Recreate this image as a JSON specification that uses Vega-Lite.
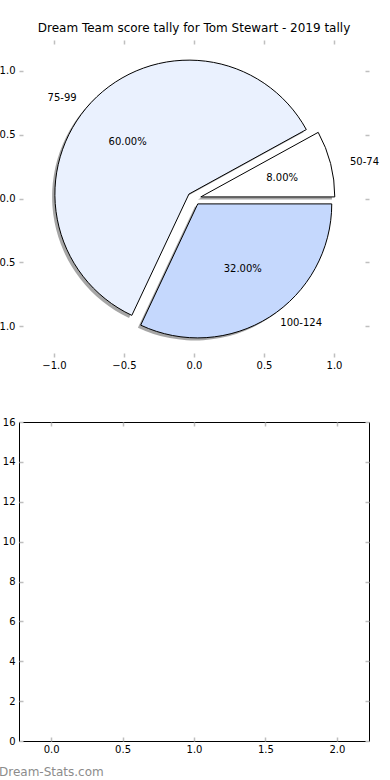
{
  "$schema": "https://vega.github.io/schema/vega-lite/v6.json",
  "bounds": "flush",
  "spacing": 65,
  "padding": {"left": -10, "top": 22, "right": 20, "bottom": 0},
  "config": {
    "font": "DejaVu Sans",
    "view": {"stroke": null},
    "axis": {
      "domain": false,
      "grid": false,
      "tickColor": "#bfbfbf",
      "tickWidth": 1.5,
      "tickSize": 4,
      "offset": -4,
      "labelFont": "DejaVu Sans",
      "labelFontSize": 10,
      "labelColor": "black",
      "title": null
    },
    "axisX": {"labelPadding": 3},
    "axisY": {"labelPadding": 4},
    "text": {"font": "DejaVu Sans", "fontSize": 10, "color": "black"}
  },
  "datasets": {
    "tally": [
      {"band": "50-74", "count": 2, "order": 1},
      {"band": "75-99", "count": 15, "order": 2},
      {"band": "100-124", "count": 8, "order": 3}
    ]
  },
  "vconcat": [
    {
      "width": 350,
      "height": 317,
      "title": {"text": "Dream Team score tally for Tom Stewart - 2019 tally", "fontSize": 12, "fontWeight": "normal", "font": "DejaVu Sans", "color": "black", "offset": 4, "anchor": "middle"},
      "data": {"name": "tally"},
      "transform": [
        {"joinaggregate": [{"op": "sum", "field": "count", "as": "total"}]},
        {"window": [{"op": "sum", "field": "count", "as": "cum"}], "sort": [{"field": "order"}], "frame": [null, 0]},
        {"calculate": "(datum.cum - datum.count) / datum.total", "as": "f0"},
        {"calculate": "datum.cum / datum.total", "as": "f1"},
        {"calculate": "PI * (datum.f0 + datum.f1)", "as": "mid"},
        {"calculate": "0.05 * cos(datum.mid)", "as": "cx"},
        {"calculate": "0.05 * sin(datum.mid)", "as": "cy"},
        {"calculate": "datum.cx - 0.02", "as": "sx"},
        {"calculate": "datum.cy - 0.02", "as": "sy"},
        {"calculate": "1.15 * cos(datum.mid)", "as": "lx"},
        {"calculate": "1.15 * sin(datum.mid)", "as": "ly"},
        {"calculate": "0.65 * cos(datum.mid)", "as": "px"},
        {"calculate": "0.65 * sin(datum.mid)", "as": "py"},
        {"calculate": "format(100 * datum.count / datum.total, '.2f') + '%'", "as": "pct"}
      ],
      "resolve": {"axis": {"x": "independent", "y": "independent"}},
      "layer": [
        {
          "mark": {"type": "arc", "radius": 134, "fill": "#4d4d4d", "opacity": 0.5, "stroke": null},
          "encoding": {
            "x": {"field": "sx", "type": "quantitative", "scale": {"domain": [-1.25, 1.25], "nice": false, "zero": false}, "axis": {"orient": "top", "labels": false, "values": [-1, -0.5, 0, 0.5, 1]}},
            "y": {"field": "sy", "type": "quantitative", "scale": {"domain": [-1.24, 1.24], "nice": false, "zero": false}, "axis": {"orient": "right", "labels": false, "values": [-1, -0.5, 0, 0.5, 1]}},
            "theta": {"field": "f0", "type": "quantitative", "scale": {"type": "linear", "domain": [0, 1], "range": [1.5707963, -4.712389], "zero": false, "nice": false}},
            "theta2": {"field": "f1"}
          }
        },
        {
          "mark": {"type": "arc", "radius": 134, "stroke": "black", "strokeWidth": 1},
          "encoding": {
            "x": {"field": "cx", "type": "quantitative", "scale": {"domain": [-1.25, 1.25], "nice": false, "zero": false}, "axis": {"orient": "bottom", "values": [-1, -0.5, 0, 0.5, 1], "format": ".1f"}},
            "y": {"field": "cy", "type": "quantitative", "scale": {"domain": [-1.24, 1.24], "nice": false, "zero": false}, "axis": {"orient": "left", "values": [-1, -0.5, 0, 0.5, 1], "format": ".1f"}},
            "theta": {"field": "f0", "type": "quantitative", "scale": {"type": "linear", "domain": [0, 1], "range": [1.5707963, -4.712389], "zero": false, "nice": false}},
            "theta2": {"field": "f1"},
            "color": {"field": "band", "type": "nominal", "scale": {"domain": ["50-74", "75-99", "100-124"], "range": ["#ffffff", "#eaf1fe", "#c5d8fd"]}, "legend": null}
          }
        },
        {
          "transform": [{"filter": "datum.lx > 0"}],
          "mark": {"type": "text", "align": "left", "baseline": "middle"},
          "encoding": {
            "x": {"field": "lx", "type": "quantitative", "axis": null},
            "y": {"field": "ly", "type": "quantitative", "axis": null},
            "text": {"field": "band"}
          }
        },
        {
          "transform": [{"filter": "datum.lx <= 0"}],
          "mark": {"type": "text", "align": "right", "baseline": "middle"},
          "encoding": {
            "x": {"field": "lx", "type": "quantitative", "axis": null},
            "y": {"field": "ly", "type": "quantitative", "axis": null},
            "text": {"field": "band"}
          }
        },
        {
          "mark": {"type": "text", "align": "center", "baseline": "middle"},
          "encoding": {
            "x": {"field": "px", "type": "quantitative", "axis": null},
            "y": {"field": "py", "type": "quantitative", "axis": null},
            "text": {"field": "pct"}
          }
        }
      ]
    },
    {
      "width": 350,
      "height": 319,
      "view": {"stroke": "black", "strokeWidth": 1},
      "title": {"text": "Dream-Stats.com", "orient": "bottom", "anchor": "start", "frame": "group", "dx": -20, "offset": 13, "fontSize": 12, "fontWeight": "normal", "font": "DejaVu Sans", "color": "#8c8c8c"},
      "data": {"values": []},
      "resolve": {"axis": {"x": "independent", "y": "independent"}},
      "layer": [
        {
          "mark": {"type": "point", "opacity": 0},
          "encoding": {
            "x": {"field": "x", "type": "quantitative", "scale": {"domain": [-0.225, 2.225], "nice": false, "zero": false}, "axis": {"orient": "bottom", "values": [0, 0.5, 1, 1.5, 2], "format": ".1f"}},
            "y": {"field": "y", "type": "quantitative", "scale": {"domain": [0, 16], "nice": false, "zero": false}, "axis": {"orient": "left", "values": [0, 2, 4, 6, 8, 10, 12, 14, 16], "format": "d"}}
          }
        },
        {
          "mark": {"type": "point", "opacity": 0},
          "encoding": {
            "x": {"field": "x", "type": "quantitative", "scale": {"domain": [-0.225, 2.225], "nice": false, "zero": false}, "axis": {"orient": "top", "labels": false, "values": [0, 0.5, 1, 1.5, 2]}},
            "y": {"field": "y", "type": "quantitative", "scale": {"domain": [0, 16], "nice": false, "zero": false}, "axis": {"orient": "right", "labels": false, "values": [0, 2, 4, 6, 8, 10, 12, 14, 16]}}
          }
        }
      ]
    }
  ]
}
